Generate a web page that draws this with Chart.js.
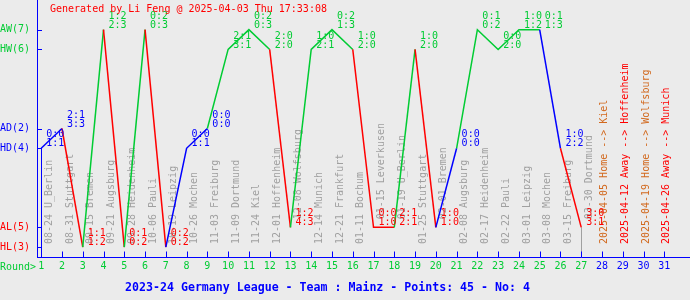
<!DOCTYPE html>
<html>
<head>
<meta charset="utf-8">
<script src="https://cdn.jsdelivr.net/npm/chart.js@4"></script>
<style>
    html, body { margin: 0; padding: 0; background: #ebebeb; }
    canvas { display: block; }
</style>
</head>
<body>
<canvas id="chart" width="690" height="300"></canvas>
<script>
const rounds = [1, 2, 3, 4, 5, 6, 7, 8, 9, 10, 11, 12, 13, 14, 15, 16, 17, 18, 19, 20, 21, 22, 23, 24, 25, 26, 27, 28, 29, 30, 31];
const results = ['HD', 'AD', 'HL', 'AW', 'HL', 'AW', 'HL', 'HD', 'AD', 'HW', 'AW', 'HW', 'AL', 'HW', 'AW', 'HW', 'AL', 'AL', 'HW', 'AL', 'HD', 'AW', 'HW', 'AW', 'AW', 'HD', 'AL'];
const halfTime = ['0:0', '2:1', '1:1', '1:2', '0:1', '0:2', '0:2', '0:0', '0:0', '2:1', '0:2', '2:0', '1:2', '1:0', '0:2', '1:0', '0:0', '2:1', '1:0', '1:0', '0:0', '0:1', '0:0', '1:0', '0:1', '1:0', '3:0'];
const fullTime = ['1:1', '3:3', '1:2', '2:3', '0:2', '0:3', '0:2', '1:1', '0:0', '3:1', '0:3', '2:0', '4:3', '2:1', '1:3', '2:0', '1:0', '2:1', '2:0', '1:0', '0:0', '0:2', '2:0', '1:2', '1:3', '2:2', '3:1'];
const fixtures = ['08-24 U_Berlin', '08-31 Stuttgart', '09-15 Bremen', '09-21 Augsburg', '09-28 Heidenheim', '10-06 Pauli', '10-19 Leipzig', '10-26 Mochen', '11-03 Freiburg', '11-09 Dortmund', '11-24 Kiel', '12-01 Hoffenheim', '12-08 Wolfsburg', '12-14 Munich', '12-21 Frankfurt', '01-11 Bochum', '01-15 Leverkusen', '01-19 U_Berlin', '01-25 Stuttgart', '02-01 Bremen', '02-08 Augsburg', '02-17 Heidenheim', '02-22 Pauli', '03-01 Leipzig', '03-08 Mochen', '03-15 Freiburg', '03-30 Dortmund'];
const upcoming = ['2025-04-05 Home --> Kiel', '2025-04-12 Away --> Hoffenheim', '2025-04-19 Home --> Wolfsburg', '2025-04-26 Away --> Munich'];
const levelKeys = ['HL', 'AL', 'HD', 'AD', 'HW', 'AW'];
const levelValues = [0, 1, 5, 6, 10, 11];
const levelLabels = ['HL(3)', 'AL(5)', 'HD(4)', 'AD(2)', 'HW(6)', 'AW(7)'];
const chartTitle = 'Generated by Li Feng @ 2025-04-03 Thu 17:33:08';
const footTitle = '2023-24 Germany League - Team : Mainz - Points: 45 - No: 4';

const GREEN = '#00cc33';
const BLUE = '#0000ff';
const RED = '#ff0000';
const GRAY = '#a0a0a0';
const ORANGE = '#d2691e';
const MONO = "'DejaVu Sans Mono', monospace";

function resultColor(r) {
    if (r.endsWith('W')) return GREEN;
    if (r.endsWith('D')) return BLUE;
    return RED;
}

function levelOf(r) {
    return levelValues[levelKeys.indexOf(r)];
}

let points = results.map((r, i) => ({ x: rounds[i], y: levelOf(r) }));

// everything that is not a dataset: background, labels, inner ticks, titles
const decorations = {
    id: 'decorations',
    beforeDraw(chart) {
        const ctx = chart.ctx;
        ctx.save();
        ctx.fillStyle = '#ebebeb';
        ctx.fillRect(0, 0, chart.width, chart.height);
        ctx.restore();
    },
    beforeDatasetsDraw(chart) {
        const ctx = chart.ctx;
        const xs = chart.scales.x, ys = chart.scales.y;
        const base = ys.getPixelForValue(0) - 3;
        ctx.save();
        ctx.font = '10px ' + MONO;
        ctx.textAlign = 'left';
        ctx.textBaseline = 'middle';
        fixtures.forEach((f, i) => {
            let px = xs.getPixelForValue(rounds[i]) + 8;
            let py = base;
            if (results[i] === 'AL') py = ys.getPixelForValue(levelOf('AL')) - 8;
            ctx.save();
            ctx.translate(px, py);
            ctx.rotate(-Math.PI / 2);
            ctx.fillStyle = GRAY;
            ctx.fillText(f, 0, 0);
            ctx.restore();
        });
        upcoming.forEach((u, i) => {
            let px = xs.getPixelForValue(rounds[results.length + i]) + 2.5;
            ctx.save();
            ctx.translate(px, base);
            ctx.rotate(-Math.PI / 2);
            ctx.fillStyle = u.includes('Away') ? RED : ORANGE;
            ctx.fillText(u, 0, 0);
            ctx.restore();
        });
        // drop lines for the first and the last played round
        ctx.lineWidth = 1;
        let first = points[0], last = points[points.length - 1];
        ctx.strokeStyle = resultColor(results[0]);
        ctx.beginPath();
        ctx.moveTo(Math.round(xs.getPixelForValue(first.x)) + 0.5, ys.getPixelForValue(first.y));
        ctx.lineTo(Math.round(xs.getPixelForValue(first.x)) + 0.5, ys.bottom);
        ctx.stroke();
        ctx.strokeStyle = GRAY;
        ctx.beginPath();
        ctx.moveTo(Math.round(xs.getPixelForValue(last.x)) + 0.5, ys.getPixelForValue(last.y));
        ctx.lineTo(Math.round(xs.getPixelForValue(last.x)) + 0.5, ys.bottom);
        ctx.stroke();
        ctx.restore();
    },
    afterDraw(chart) {
        const ctx = chart.ctx;
        const xs = chart.scales.x, ys = chart.scales.y;
        const area = chart.chartArea;
        ctx.save();
        // inner ticks
        ctx.strokeStyle = BLUE;
        ctx.lineWidth = 1;
        ctx.beginPath();
        rounds.forEach(r => {
            let px = Math.round(xs.getPixelForValue(r)) + 0.5;
            ctx.moveTo(px, area.bottom - 6);
            ctx.lineTo(px, area.bottom);
        });
        levelValues.forEach(v => {
            let py = Math.round(ys.getPixelForValue(v)) + 0.5;
            ctx.moveTo(area.left, py);
            ctx.lineTo(area.left + 5, py);
        });
        ctx.stroke();

        // score labels
        ctx.font = '10px ' + MONO;
        ctx.textAlign = 'left';
        ctx.textBaseline = 'middle';
        points.forEach((p, i) => {
            let px = xs.getPixelForValue(p.x) + 5;
            let py = ys.getPixelForValue(p.y);
            ctx.fillStyle = resultColor(results[i]);
            ctx.fillText(halfTime[i], px, py - 13.5);
            ctx.fillText(fullTime[i], px, py - 4.5);
        });

        ctx.fillStyle = GREEN;
        ctx.fillText('Round>', 0, xs.top + 9.5);

        ctx.fillStyle = RED;
        ctx.fillText(chartTitle, 50, 9.5);

        ctx.font = 'bold 11.6px ' + MONO;
        ctx.textAlign = 'center';
        ctx.fillStyle = BLUE;
        ctx.fillText(footTitle, 327.5, 287.5);
        ctx.restore();
    }
};

new Chart(document.getElementById('chart'), {
    type: 'line',
    data: {
        datasets: [{
            data: points,
            borderColor: BLUE,
            borderWidth: 1.5,
            pointRadius: 0,
            tension: 0,
            segment: {
                borderColor: c => resultColor(results[c.p1DataIndex])
            }
        }]
    },
    options: {
        responsive: false,
        animation: false,
        devicePixelRatio: 1,
        layout: { padding: { top: 0, left: 0, right: 0, bottom: 24.5 } },
        plugins: { legend: { display: false }, tooltip: { enabled: false } },
        scales: {
            x: {
                type: 'linear',
                min: 0.7978,
                max: 32.237,
                afterBuildTicks: s => { s.ticks = rounds.map(v => ({ value: v })); },
                afterFit: s => { s.paddingLeft = 0; s.paddingRight = 0; },
                ticks: {
                    autoSkip: false,
                    maxRotation: 0,
                    padding: 3,
                    font: { family: MONO, size: 10 },
                    color: c => (c.index < results.length ? GREEN : BLUE),
                    callback: v => String(v)
                },
                grid: { display: false, drawTicks: false },
                border: { display: true, color: BLUE, width: 1 }
            },
            y: {
                type: 'linear',
                min: -0.525,
                max: 12.5,
                afterBuildTicks: s => { s.ticks = levelValues.map(v => ({ value: v })); },
                afterFit: s => { s.width = 37; s.paddingTop = 0; s.paddingBottom = 0; },
                ticks: {
                    padding: 7,
                    font: { family: MONO, size: 10 },
                    color: c => resultColor(levelKeys[c.index]),
                    callback: (v, i) => levelLabels[i]
                },
                grid: { display: false, drawTicks: false },
                border: { display: true, color: BLUE, width: 1 }
            }
        }
    },
    plugins: [decorations]
});
</script>
</body>
</html>
